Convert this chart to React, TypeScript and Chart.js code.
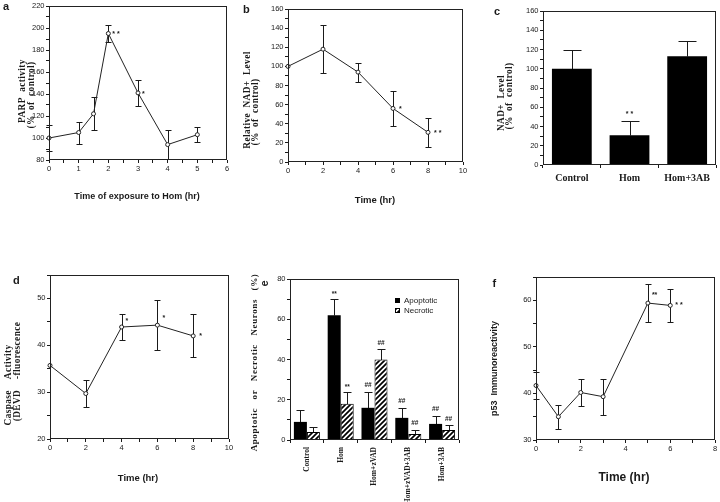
import React, { useEffect, useRef } from "react";
import { Chart, registerables } from "chart.js";

Chart.register(...registerables);

const SANS = "'Liberation Sans', Arial, sans-serif";
const SERIF = "'Liberation Serif', 'Times New Roman', serif";
const INK = "#1a1a1a";

// ---- panel a : PARP activity ----
const parpTimes = [0, 1, 1.5, 2, 3, 4, 5];
const parpValues = [100, 105, 122, 195, 141, 94, 103];
const parpErrors = [12, 10, 15, 8, 12, 13, 7];
const parpMarks = ["", "", "", "* *", "*", "", ""];
const parpXRange = [0, 6];
const parpYRange = [80, 220];

// ---- panel b : relative NAD+ level ----
const nadTimes = [0, 2, 4, 6, 8];
const nadValues = [100, 118, 94, 56, 31];
const nadErrors = [0, 25, 10, 18, 15];
const nadMarks = ["", "", "", "*", "* *"];
const nadXRange = [0, 10];
const nadYRange = [0, 160];

// ---- panel c : NAD+ level bars ----
const nadGroups = ["Control", "Hom", "Hom+3AB"];
const nadBarValues = [100, 31, 113];
const nadBarErrors = [20, 15, 16];
const nadBarMarks = ["", "* *", ""];
const nadBarYRange = [0, 160];

// ---- panel d : caspase activity ----
const caspTimes = [0, 2, 4, 6, 8];
const caspValues = [35.7, 29.7, 43.9, 44.3, 42.0];
const caspErrors = [0, 2.8, 2.8, 5.4, 4.6];
const caspMarks = ["", "", "*", "*", "*"];
const caspXRange = [0, 10];
const caspYRange = [20, 55];

// ---- panel e : apoptotic / necrotic neurons ----
const deathGroups = ["Control", "Hom", "Hom+zVAD", "Hom+zVAD+3AB", "Hom+3AB"];
const apoptoticValues = [9, 62, 16, 11, 8];
const apoptoticErrors = [6, 8, 8, 5, 4];
const apoptoticMarks = ["", "**", "##", "##", "##"];
const necroticValues = [4, 18, 40, 3, 5];
const necroticErrors = [2.5, 6, 5, 2, 2.3];
const necroticMarks = ["", "**", "##", "##", "##"];
const deathYRange = [0, 80];

// ---- panel f : p53 immunoreactivity ----
const p53Times = [0, 1, 2, 3, 5, 6];
const p53Values = [41.7, 35, 40.2, 39.3, 59.4, 58.9];
const p53Errors = [3, 2.6, 2.9, 3.9, 4, 3.5];
const p53Marks = ["", "", "", "", "**", "* *"];
const p53XRange = [0, 8];
const p53YRange = [30, 65];

type Rect = { x: number; y: number; w: number; h: number };
type Area = { l: number; t: number; r: number; b: number };
type TextItem = {
  t: string; x: number; y: number; font: string; rot?: number;
  align?: CanvasTextAlign; base?: CanvasTextBaseline; spacing?: string;
};
type ErrSpec = { ds: number; errors: number[]; up?: boolean; cap: number };
type MarkSpec = {
  ds: number; labels: string[]; dx: number | number[]; dy: number | number[];
  font: string; errors?: number[]; align?: CanvasTextAlign;
};
type Box = { x: number; y: number; w: number; h: number; hatch?: boolean };

const isMult = (v: number, n: number) => Math.abs(v / n - Math.round(v / n)) < 1e-6;
const pick = (v: number | number[], i: number) => (Array.isArray(v) ? v[i] : v);

function makeHatch(): CanvasPattern | string {
  const c = document.createElement("canvas");
  c.width = 5;
  c.height = 5;
  const g = c.getContext("2d");
  if (!g) return "#888";
  g.fillStyle = "#fff";
  g.fillRect(0, 0, 5, 5);
  g.strokeStyle = "#000";
  g.lineWidth = 1.7;
  g.beginPath();
  g.moveTo(-1, 6); g.lineTo(6, -1);
  g.moveTo(-1, 1); g.lineTo(1, -1);
  g.moveTo(4, 6); g.lineTo(6, 4);
  g.stroke();
  return g.createPattern(c, "repeat") || "#888";
}

function linAxis(range: number[], step: number, labelStep: number, size = 7.5) {
  return {
    type: "linear",
    min: range[0],
    max: range[1],
    ticks: {
      stepSize: step,
      autoSkip: false,
      maxRotation: 0,
      minRotation: 0,
      padding: 1.5,
      color: INK,
      font: { family: SANS, size },
      callback: (v: number) => (isMult(v, labelStep) ? String(v) : ""),
    },
    grid: { display: true, drawOnChartArea: false, drawTicks: true, tickLength: 3, color: INK, lineWidth: 1 },
    border: { display: false },
  };
}

function catAxis(font: any, rot: number, pad: number) {
  return {
    type: "category",
    offset: true,
    ticks: { autoSkip: false, maxRotation: rot, minRotation: rot, padding: pad, color: INK, font },
    grid: { display: true, drawOnChartArea: false, drawTicks: true, tickLength: 3, color: INK, offset: true },
    border: { display: false },
  };
}

function lineDataset(times: number[], values: number[]) {
  return {
    data: times.map((t, i) => ({ x: t, y: values[i] })),
    borderColor: "#222",
    borderWidth: 1,
    pointRadius: 2,
    pointBackgroundColor: "#fff",
    pointBorderColor: "#222",
    pointBorderWidth: 1,
    tension: 0,
    fill: false,
    clip: false,
  };
}

function extrasPlugin(region: Rect, texts: TextItem[], errs: ErrSpec[], marks: MarkSpec[], boxes: Box[], hatch: any) {
  const valueOf = (chart: any, ds: number, j: number) => {
    const d = chart.data.datasets[ds].data[j];
    return typeof d === "number" ? d : d.y;
  };
  return {
    id: "extras",
    beforeDatasetsDraw(chart: any) {
      const ctx = chart.ctx;
      const ys = chart.scales.y;
      ctx.save();
      ctx.strokeStyle = INK;
      ctx.lineWidth = 1;
      errs.forEach((e) => {
        const meta = chart.getDatasetMeta(e.ds);
        meta.data.forEach((el: any, j: number) => {
          const err = e.errors[j];
          if (!err) return;
          const v = valueOf(chart, e.ds, j);
          const x = Math.round(el.x) + 0.5;
          const yTop = Math.round(ys.getPixelForValue(v + err)) + 0.5;
          const yBot = Math.round(ys.getPixelForValue(e.up ? v : v - err)) + 0.5;
          ctx.beginPath();
          ctx.moveTo(x, yTop); ctx.lineTo(x, yBot);
          ctx.moveTo(x - e.cap, yTop); ctx.lineTo(x + e.cap, yTop);
          if (!e.up) { ctx.moveTo(x - e.cap, yBot); ctx.lineTo(x + e.cap, yBot); }
          ctx.stroke();
        });
      });
      ctx.restore();
    },
    afterDraw(chart: any) {
      const ctx = chart.ctx;
      const ca = chart.chartArea;
      const ys = chart.scales.y;
      ctx.save();
      // frame
      ctx.strokeStyle = "#222";
      ctx.lineWidth = 1;
      ctx.strokeRect(ca.left + 0.5, ca.top + 0.5, ca.right - ca.left - 1, ca.bottom - ca.top - 1);
      // significance marks
      ctx.fillStyle = INK;
      marks.forEach((m) => {
        const meta = chart.getDatasetMeta(m.ds);
        meta.data.forEach((el: any, j: number) => {
          const lab = m.labels[j];
          if (!lab) return;
          let y = el.y;
          if (m.errors) y = ys.getPixelForValue(valueOf(chart, m.ds, j) + m.errors[j]);
          ctx.font = m.font;
          ctx.textAlign = m.align || "left";
          ctx.textBaseline = "middle";
          ctx.fillText(lab, el.x + pick(m.dx, j), y + pick(m.dy, j));
        });
      });
      // legend boxes
      boxes.forEach((b) => {
        ctx.fillStyle = b.hatch ? hatch : "#000";
        ctx.fillRect(b.x - region.x, b.y - region.y, b.w, b.h);
        ctx.strokeStyle = "#000";
        ctx.strokeRect(b.x - region.x + 0.5, b.y - region.y + 0.5, b.w - 1, b.h - 1);
      });
      // texts
      texts.forEach((it) => {
        ctx.save();
        ctx.font = it.font;
        ctx.fillStyle = INK;
        ctx.textAlign = it.align || "center";
        ctx.textBaseline = it.base || "middle";
        if (it.spacing && "letterSpacing" in ctx) (ctx as any).letterSpacing = it.spacing;
        ctx.translate(it.x - region.x, it.y - region.y);
        if (it.rot) ctx.rotate((it.rot * Math.PI) / 180);
        ctx.fillText(it.t, 0, 0);
        ctx.restore();
      });
      ctx.restore();
    },
  };
}

function baseOptions(region: Rect, area: Area, scales: any) {
  const wy = area.l - region.x;
  const hx = region.y + region.h - area.b;
  scales.x.position = "bottom";
  scales.y.position = "left";
  scales.x.afterFit = (s: any) => { s.height = hx; };
  scales.y.afterFit = (s: any) => { s.width = wy; };
  return {
    responsive: false,
    maintainAspectRatio: false,
    animation: false,
    events: [],
    layout: { padding: { left: 0, bottom: 0, top: area.t - region.y, right: region.x + region.w - area.r } },
    scales,
    plugins: { legend: { display: false }, tooltip: { enabled: false }, title: { display: false } },
  };
}

const LETTER = `bold 11px ${SANS}`;
const YTITLE = `bold 9.3px ${SERIF}`;
const STAR = `bold 7px ${SANS}`;

type PanelSpec = { id: string; region: Rect; build: (hatch: any) => any };

const panels: PanelSpec[] = [
  {
    id: "a",
    region: { x: 0, y: 0, w: 240, h: 250 },
    build: () => {
      const region = { x: 0, y: 0, w: 240, h: 250 };
      const texts: TextItem[] = [
        { t: "a", x: 3, y: 9.5, font: LETTER, align: "left", base: "alphabetic" },
        { t: "PARP  activity", x: 22.8, y: 91, font: YTITLE, rot: -90, spacing: "0.4px" },
        { t: "(%  of  control)", x: 31.3, y: 95, font: YTITLE, rot: -90, spacing: "0.4px" },
        { t: "Time of exposure to Hom (hr)", x: 137, y: 197, font: `bold 9px ${SANS}` },
      ];
      return {
        type: "line",
        data: { datasets: [lineDataset(parpTimes, parpValues)] },
        options: baseOptions(region, { l: 49, t: 6, r: 227, b: 160 }, {
          x: linAxis(parpXRange, 0.5, 1),
          y: linAxis(parpYRange, 10, 20),
        }),
        plugins: [extrasPlugin(region, texts,
          [{ ds: 0, errors: parpErrors, cap: 3 }],
          [{ ds: 0, labels: parpMarks, dx: 4, dy: 1, font: STAR }], [], null)],
      };
    },
  },
  {
    id: "b",
    region: { x: 240, y: 0, w: 240, h: 250 },
    build: () => {
      const region = { x: 240, y: 0, w: 240, h: 250 };
      const texts: TextItem[] = [
        { t: "b", x: 243, y: 13.3, font: LETTER, align: "left", base: "alphabetic" },
        { t: "Relative  NAD+  Level", x: 247.5, y: 100, font: YTITLE, rot: -90, spacing: "0.4px" },
        { t: "(%  of  control)", x: 256, y: 112, font: YTITLE, rot: -90, spacing: "0.4px" },
        { t: "Time (hr)", x: 375, y: 200, font: `bold 9.5px ${SANS}` },
      ];
      return {
        type: "line",
        data: { datasets: [lineDataset(nadTimes, nadValues)] },
        options: baseOptions(region, { l: 288, t: 9, r: 463, b: 162 }, {
          x: linAxis(nadXRange, 1, 2),
          y: linAxis(nadYRange, 10, 20),
        }),
        plugins: [extrasPlugin(region, texts,
          [{ ds: 0, errors: nadErrors, cap: 3 }],
          [{ ds: 0, labels: nadMarks, dx: 6, dy: 1, font: STAR }], [], null)],
      };
    },
  },
  {
    id: "c",
    region: { x: 480, y: 0, w: 240, h: 250 },
    build: () => {
      const region = { x: 480, y: 0, w: 240, h: 250 };
      const texts: TextItem[] = [
        { t: "c", x: 494, y: 15.3, font: LETTER, align: "left", base: "alphabetic" },
        { t: "NAD+  Level", x: 501.5, y: 103, font: YTITLE, rot: -90, spacing: "0.4px" },
        { t: "(%  of  control)", x: 510, y: 96, font: YTITLE, rot: -90, spacing: "0.4px" },
      ];
      return {
        type: "bar",
        data: {
          labels: nadGroups,
          datasets: [{
            data: nadBarValues, backgroundColor: "#000", borderColor: "#000", borderWidth: 0,
            barPercentage: 0.69, categoryPercentage: 1,
          }],
        },
        options: baseOptions(region, { l: 543, t: 11, r: 716, b: 165 }, {
          x: catAxis({ family: SERIF, size: 10, weight: "bold" }, 0, 4),
          y: linAxis(nadBarYRange, 10, 20),
        }),
        plugins: [extrasPlugin(region, texts,
          [{ ds: 0, errors: nadBarErrors, up: true, cap: 9 }],
          [{ ds: 0, labels: nadBarMarks, errors: nadBarErrors, dx: 0, dy: -7, font: STAR, align: "center" }], [], null)],
      };
    },
  },
  {
    id: "d",
    region: { x: 0, y: 250, w: 240, h: 252 },
    build: () => {
      const region = { x: 0, y: 250, w: 240, h: 252 };
      const texts: TextItem[] = [
        { t: "d", x: 13, y: 284, font: LETTER, align: "left", base: "alphabetic" },
        { t: "Caspase    Activity", x: 8.5, y: 385, font: YTITLE, rot: -90, spacing: "0.4px" },
        { t: "(DEVD    -fluorescence", x: 17.3, y: 371.5, font: YTITLE, rot: -90, spacing: "0.4px" },
        { t: "Time (hr)", x: 138, y: 478, font: `bold 9.5px ${SANS}` },
      ];
      return {
        type: "line",
        data: { datasets: [lineDataset(caspTimes, caspValues)] },
        options: baseOptions(region, { l: 50, t: 275, r: 229, b: 439 }, {
          x: linAxis(caspXRange, 1, 2),
          y: linAxis(caspYRange, 5, 10),
        }),
        plugins: [extrasPlugin(region, texts,
          [{ ds: 0, errors: caspErrors, cap: 3 }],
          [{ ds: 0, labels: caspMarks, dx: [0, 0, 4, 5, 6], dy: [0, 0, -6, -7, 0], font: STAR }], [], null)],
      };
    },
  },
  {
    id: "e",
    region: { x: 240, y: 250, w: 240, h: 252 },
    build: (hatch: any) => {
      const region = { x: 240, y: 250, w: 240, h: 252 };
      const texts: TextItem[] = [
        { t: "e", x: 265, y: 283.5, font: LETTER, rot: -90 },
        { t: "Apoptotic   or   Necrotic   Neurons   (%)", x: 255, y: 362.5, font: `bold 9px ${SERIF}`, rot: -90, spacing: "0.6px" },
        { t: "Apoptotic", x: 404, y: 301, font: `8px ${SANS}`, align: "left" },
        { t: "Necrotic", x: 404, y: 311, font: `8px ${SANS}`, align: "left" },
      ];
      const boxes: Box[] = [
        { x: 395, y: 298, w: 5, h: 5 },
        { x: 395, y: 308, w: 5, h: 5, hatch: true },
      ];
      return {
        type: "bar",
        data: {
          labels: deathGroups,
          datasets: [
            {
              label: "Apoptotic", data: apoptoticValues, backgroundColor: "#000", borderColor: "#000",
              borderWidth: 0, barPercentage: 1, categoryPercentage: 0.77,
            },
            {
              label: "Necrotic", data: necroticValues, backgroundColor: hatch, borderColor: "#000",
              borderWidth: 1, barPercentage: 1, categoryPercentage: 0.77,
            },
          ],
        },
        options: baseOptions(region, { l: 290, t: 279, r: 459, b: 440 }, {
          x: catAxis({ family: SERIF, size: 7.5, weight: "bold" }, 90, 4),
          y: linAxis(deathYRange, 10, 20),
        }),
        plugins: [extrasPlugin(region, texts,
          [
            { ds: 0, errors: apoptoticErrors, up: true, cap: 4 },
            { ds: 1, errors: necroticErrors, up: true, cap: 4 },
          ],
          [
            { ds: 0, labels: apoptoticMarks, errors: apoptoticErrors, dx: 0, dy: [0, -4.5, -6.5, -6.5, -6.5], font: `bold 6.5px ${SANS}`, align: "center" },
            { ds: 1, labels: necroticMarks, errors: necroticErrors, dx: 0, dy: [0, -4.5, -6.5, -6.5, -6.5], font: `bold 6.5px ${SANS}`, align: "center" },
          ], boxes, hatch)],
      };
    },
  },
  {
    id: "f",
    region: { x: 480, y: 250, w: 240, h: 252 },
    build: () => {
      const region = { x: 480, y: 250, w: 240, h: 252 };
      const texts: TextItem[] = [
        { t: "f", x: 492.5, y: 287.3, font: LETTER, align: "left", base: "alphabetic" },
        { t: "p53  Immunoreactivity", x: 495, y: 368.5, font: `bold 9px ${SANS}`, rot: -90 },
        { t: "Time (hr)", x: 624, y: 478, font: `bold 12px ${SANS}` },
      ];
      return {
        type: "line",
        data: { datasets: [lineDataset(p53Times, p53Values)] },
        options: baseOptions(region, { l: 536, t: 277, r: 716, b: 440 }, {
          x: linAxis(p53XRange, 1, 2, 7.5),
          y: linAxis(p53YRange, 5, 10, 7.5),
        }),
        plugins: [extrasPlugin(region, texts,
          [{ ds: 0, errors: p53Errors, cap: 3 }],
          [{ ds: 0, labels: p53Marks, dx: [0, 0, 0, 0, 4, 5], dy: [0, 0, 0, 0, -8.5, -0.5], font: STAR }], [], null)],
      };
    },
  },
];

function Panel({ spec }: { spec: PanelSpec }) {
  const ref = useRef<HTMLCanvasElement | null>(null);
  useEffect(() => {
    if (!ref.current) return;
    const hatch = makeHatch();
    const chart = new Chart(ref.current, spec.build(hatch));
    return () => chart.destroy();
  }, [spec]);
  const r = spec.region;
  return (
    <canvas
      ref={ref}
      width={r.w}
      height={r.h}
      style={{ position: "absolute", left: r.x, top: r.y, width: r.w, height: r.h, display: "block" }}
    />
  );
}

export default function App() {
  return (
    <div style={{ position: "absolute", left: 0, top: 0, width: 720, height: 502, background: "#fff", overflow: "hidden" }}>
      {panels.map((p) => (
        <Panel key={p.id} spec={p} />
      ))}
    </div>
  );
}
